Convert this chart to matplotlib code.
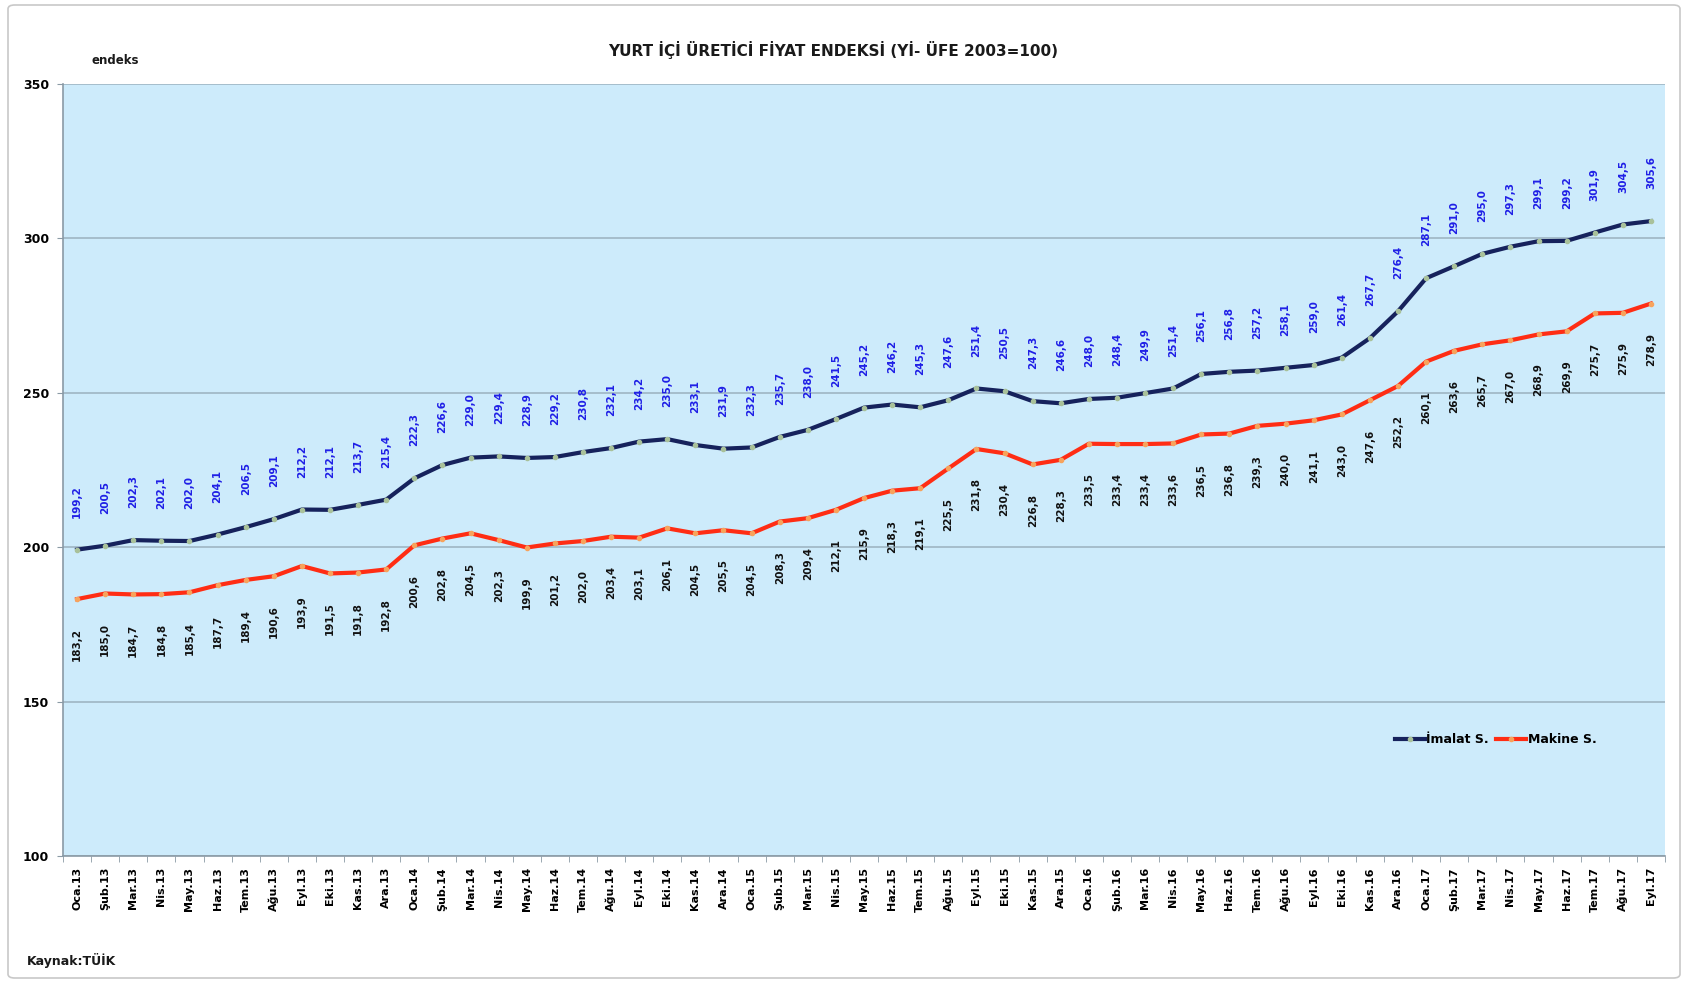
import matplotlib
matplotlib.use("Agg")
import matplotlib.pyplot as plt
from matplotlib.patches import FancyBboxPatch
import numpy as np

plt.rcParams['font.family'] = ['DejaVu Sans']

months = ["Oca", "Şub", "Mar", "Nis", "May", "Haz", "Tem", "Ağu", "Eyl", "Eki", "Kas", "Ara"]
years = ["13", "14", "15", "16", "17"]
categories = [f"{m}.{y}" for y in years for m in months][:57]

imalat = [199.2, 200.5, 202.3, 202.1, 202.0, 204.1, 206.5, 209.1, 212.2, 212.1, 213.7, 215.4,
          222.3, 226.6, 229.0, 229.4, 228.9, 229.2, 230.8, 232.1, 234.2, 235.0, 233.1, 231.9,
          232.3, 235.7, 238.0, 241.5, 245.2, 246.2, 245.3, 247.6, 251.4, 250.5, 247.3, 246.6,
          248.0, 248.4, 249.9, 251.4, 256.1, 256.8, 257.2, 258.1, 259.0, 261.4, 267.7, 276.4,
          287.1, 291.0, 295.0, 297.3, 299.1, 299.2, 301.9, 304.5, 305.6]
makine = [183.2, 185.0, 184.7, 184.8, 185.4, 187.7, 189.4, 190.6, 193.9, 191.5, 191.8, 192.8,
          200.6, 202.8, 204.5, 202.3, 199.9, 201.2, 202.0, 203.4, 203.1, 206.1, 204.5, 205.5,
          204.5, 208.3, 209.4, 212.1, 215.9, 218.3, 219.1, 225.5, 231.8, 230.4, 226.8, 228.3,
          233.5, 233.4, 233.4, 233.6, 236.5, 236.8, 239.3, 240.0, 241.1, 243.0, 247.6, 252.2,
          260.1, 263.6, 265.7, 267.0, 268.9, 269.9, 275.7, 275.9, 278.9]
yticks = [100, 150, 200, 250, 300, 350]

W, H = 1684, 981
fig = plt.figure(figsize=(W / 100, H / 100), dpi=100)
fig.patch.set_facecolor("white")

# outer chart border
border = FancyBboxPatch((8 / W, 3 / H), (W - 12) / W, (H - 8) / H,
                        boxstyle="round,pad=0,rounding_size=0.004",
                        transform=fig.transFigure, facecolor="none",
                        edgecolor="#c8c8c8", linewidth=1.2)
fig.patches.append(border)

left, right, top, bottom = 63, 1665, 84, 856
ax = fig.add_axes([left / W, 1 - bottom / H, (right - left) / W, (bottom - top) / H])
ax.set_facecolor("#cdebfb")

x = np.arange(len(categories))
ax.plot(x, imalat, color="#16225c", lw=3, marker="o", ms=3,
        mfc="#a9c19a", mec="#a9c19a", label="İmalat S.", zorder=3)
ax.plot(x, makine, color="#ff2d14", lw=3, marker="o", ms=3,
        mfc="#f7a35c", mec="#f7a35c", label="Makine S.", zorder=3)

def fmt(v):
    return f"{v:.1f}".replace(".", ",")

for xi, v in zip(x, imalat):
    ax.annotate(fmt(v), (xi, v), xytext=(0, 23), textcoords="offset points",
                rotation=90, ha="center", va="bottom", fontsize=7.5,
                fontweight="bold", color="#1f1fe6")
for xi, v in zip(x, makine):
    ax.annotate(fmt(v), (xi, v), xytext=(0, -21), textcoords="offset points",
                rotation=90, ha="center", va="top", fontsize=7.5,
                fontweight="bold", color="#111111")

ax.set_xlim(-0.5, len(categories) - 0.5)
ax.set_ylim(100, 350)
ax.set_yticks(yticks)
ax.set_yticklabels([str(t) for t in yticks], fontsize=9, fontweight="bold")
ax.yaxis.grid(True, color="#9fb6c3", lw=1.2)
ax.set_axisbelow(True)

ax.set_xticks(x)
ax.set_xticklabels(categories, rotation=90, fontsize=8, fontweight="bold")
ax.tick_params(axis="x", which="major", length=0, pad=8)
ax.set_xticks(np.arange(-0.5, len(categories), 1), minor=True)
ax.tick_params(axis="x", which="minor", length=4, color="#8a9aa5")
ax.tick_params(axis="y", length=4, color="#8a9aa5", pad=6)

for s in ["top", "right"]:
    ax.spines[s].set_visible(False)
for s in ["left", "bottom"]:
    ax.spines[s].set_color("#8a9aa5")
    ax.spines[s].set_linewidth(1.2)

leg = ax.legend(loc="upper left", bbox_to_anchor=((1395 - left) / (right - left), 1 - (733 - top) / (bottom - top)),
                ncol=2, frameon=False, prop={"weight": "bold", "size": 9},
                handlelength=2.4, handletextpad=0.1, columnspacing=0.6,
                borderaxespad=0, borderpad=0)

fig.text(833 / W, 1 - 50 / H, "YURT İÇİ ÜRETİCİ FİYAT ENDEKSİ (Yİ- ÜFE 2003=100)",
         ha="center", va="center", fontsize=11, fontweight="bold", color="#1a1a1a")
fig.text(92 / W, 1 - 60 / H, "endeks", ha="left", va="center", fontsize=8.5,
         fontweight="bold", color="#1a1a1a")
fig.text(27 / W, 1 - 960 / H, "Kaynak:TÜİK", ha="left", va="center", fontsize=9,
         fontweight="bold", color="#1a1a1a")

fig.savefig("out.png", dpi=100, facecolor="white")
